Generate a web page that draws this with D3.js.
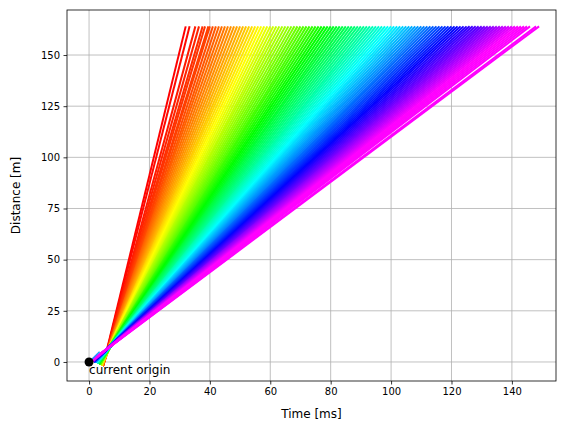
<!DOCTYPE html>
<html>
<head>
<meta charset="UTF-8">
<script src="https://d3js.org/d3.v7.min.js"></script>
<style>body{margin:0;background:#fff}text{font-family:"DejaVu Sans",sans-serif}</style>
</head>
<body>
<svg id="chart" width="571" height="432"></svg>
<script>
// end time [ms] of each ray at the top distance
const endTimes = [32,33.3,35.2,36.4,37.6,38.4,39.5,40,41,42,43,44,45,46,47,48,49,50,51,
  52,53,54,55,56,57,58,59,60,61,62,63,64,65,66,67,68,69,70,71,
  72,73,74,75,76,77,78,79,80,81,82,83,84,85,86,87,88,89,90,91,
  92,93,94,95,96,97,98,99,100,101,102,103,104,105,106,107,108,109,110,111,
  112,113,114,115,116,117,118,119,120,121,122,123,124,125,126,127,128,129,130,131,
  132,133,134,135,136,137,138,139,140,141,142,143,144,145,146,148,149];
// start point per group of 10 rays
const startTimes = [4.6, 4.3, 4.0, 3.6, 3.2, 2.8, 2.4, 2.0, 1.6, 1.3, 1.0, 0.8];
const startDists = [-2.0, -1.8, -1.5, -1.2, -0.9, -0.6, -0.3, -0.1, 0.1, 0.3, 0.5, 0.6];
const topDist = 164;
const xTicks = [0, 20, 40, 60, 80, 100, 120, 140];
const yTicks = [0, 25, 50, 75, 100, 125, 150];
const originLine = [[0, 0], [3.5, 5]];

const svg = d3.select("#chart");
const m = {l: 67, r: 556, t: 10, b: 381};
const x = d3.scaleLinear().domain([-7.3, 154.6]).range([m.l, m.r]);
const y = d3.scaleLinear().domain([-9.3, 172]).range([m.b, m.t]);

svg.append("defs").append("clipPath").attr("id", "clip")
  .append("rect").attr("x", m.l).attr("y", m.t).attr("width", m.r - m.l).attr("height", m.b - m.t);

const g = svg.append("g");
g.selectAll(".gx").data(xTicks).enter().append("line")
  .attr("x1", d => x(d)).attr("x2", d => x(d)).attr("y1", m.t).attr("y2", m.b)
  .attr("stroke", "#b0b0b0").attr("stroke-width", 0.8);
g.selectAll(".gy").data(yTicks).enter().append("line")
  .attr("y1", d => y(d)).attr("y2", d => y(d)).attr("x1", m.l).attr("x2", m.r)
  .attr("stroke", "#b0b0b0").attr("stroke-width", 0.8);

const hue = d3.scaleLinear().domain([32, 40, 57, 78, 100, 122, 142])
  .range([0, 15, 60, 120, 180, 240, 300]).clamp(true);
const plot = svg.append("g").attr("clip-path", "url(#clip)");
endTimes.forEach((t1, i) => {
  const k = Math.floor(i / 10);
  plot.append("line")
    .attr("x1", x(startTimes[k])).attr("y1", y(startDists[k]))
    .attr("x2", x(t1)).attr("y2", y(topDist))
    .attr("stroke", d3.hsl(hue(t1), 1, 0.5)).attr("stroke-width", 2);
});
plot.append("line")
  .attr("x1", x(originLine[0][0])).attr("y1", y(originLine[0][1]))
  .attr("x2", x(originLine[1][0])).attr("y2", y(originLine[1][1]))
  .attr("stroke", "#1e90ff").attr("stroke-width", 1.5);
svg.append("circle").attr("cx", x(0)).attr("cy", y(0)).attr("r", 4.5).attr("fill", "#000");
svg.append("text").attr("x", x(0)).attr("y", y(0) + 12).attr("font-size", 12).text("current origin");

svg.append("rect").attr("x", m.l).attr("y", m.t).attr("width", m.r - m.l).attr("height", m.b - m.t)
  .attr("fill", "none").attr("stroke", "#000").attr("stroke-width", 0.8);

const xa = svg.append("g").attr("transform", `translate(0,${m.b})`)
  .call(d3.axisBottom(x).tickValues(xTicks).tickSize(3.5).tickPadding(3.5));
const ya = svg.append("g").attr("transform", `translate(${m.l},0)`)
  .call(d3.axisLeft(y).tickValues(yTicks).tickSize(3.5).tickPadding(3.5));
[xa, ya].forEach(a => {
  a.select(".domain").remove();
  a.selectAll("text").attr("font-size", 10).attr("font-family", "DejaVu Sans").attr("fill", "#000");
  a.selectAll("line").attr("stroke", "#000").attr("stroke-width", 0.8);
});
svg.append("text").attr("x", (m.l + m.r) / 2).attr("y", 418).attr("text-anchor", "middle")
  .attr("font-size", 12).text("Time [ms]");
svg.append("text").attr("transform", `translate(20,${(m.t + m.b) / 2}) rotate(-90)`)
  .attr("text-anchor", "middle").attr("font-size", 12).text("Distance [m]");
</script>
</body>
</html>
